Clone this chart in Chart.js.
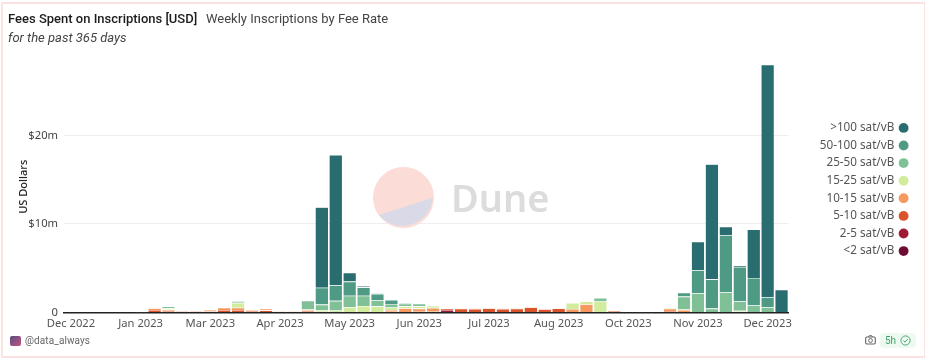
<!DOCTYPE html>
<html>
<head>
<meta charset="utf-8">
<script src="https://cdn.jsdelivr.net/npm/chart.js@4"></script>
<style>
html,body{margin:0;padding:0;background:#fff}
#wrap{position:relative;width:925px;height:358px;overflow:hidden;background:#fff;font-family:Roboto,sans-serif}
#frame{position:absolute;left:1px;top:2px;width:921px;height:352px;border:2px solid #fbe3e1;pointer-events:none}
canvas{position:absolute;left:0;top:0}
.txt{position:absolute;white-space:nowrap;line-height:14px}
#title{left:8px;top:12px;font-size:13px;font-weight:500;color:#1c1c1c}
#sub{left:206px;top:12px;font-size:13px;color:#444}
#period{left:8px;top:31px;font-size:13px;font-style:italic;color:#444}
#mark{position:absolute;left:370px;top:164px}
#dune{left:451px;top:174px;font-family:"Noto Sans",sans-serif;font-size:38px;line-height:46px;font-weight:600;color:#dcdcdc}
#avatar{position:absolute;left:10px;top:336px;width:11px;height:10px;border-radius:2px;background:linear-gradient(135deg,#5a4a80,#c0587f)}
#handle{left:25px;top:334px;font-size:10px;letter-spacing:.1px;color:#666}
#pill{position:absolute;left:880px;top:333px;width:36px;height:15px;border-radius:4px;background:#eefaf1}
#age{left:885px;top:334px;font-size:10px;color:#3f9e68}
#cam{position:absolute;left:865px;top:335px}
#check{position:absolute;left:900px;top:335px}
</style>
</head>
<body>
<div id="wrap">
<canvas id="chart" width="925" height="358"></canvas>
<svg id="mark" width="68" height="68" viewBox="0 0 68 68">
<circle cx="33.5" cy="33.5" r="30.5" fill="#fbdcd6"/>
<path d="M9 51 L62.7 33.7 A30.5 30.5 0 0 1 9 51 Z" fill="#d9d9e7"/>
</svg>
<div class="txt" id="dune">Dune</div>
<div class="txt" id="title">Fees Spent on Inscriptions [USD]</div>
<div class="txt" id="sub">Weekly Inscriptions by Fee Rate</div>
<div class="txt" id="period">for the past 365 days</div>
<div id="avatar"></div>
<div class="txt" id="handle">@data_always</div>
<div id="pill"></div>
<svg id="cam" width="11" height="10" viewBox="0 0 11 10"><rect x=".7" y="2" width="9.6" height="7" rx="1.2" fill="none" stroke="#666" stroke-width="1.1"/><circle cx="5.5" cy="5.5" r="1.9" fill="none" stroke="#666" stroke-width="1"/><path d="M3.5 2 L4.2 .7 H6.8 L7.5 2" fill="none" stroke="#666"/></svg>
<div class="txt" id="age">5h</div>
<svg id="check" width="11" height="11" viewBox="0 0 11 11"><circle cx="5.5" cy="5.5" r="4.6" fill="none" stroke="#4aa873" stroke-width="1"/><path d="M3.4 5.6 L5 7.1 L7.7 4.1" fill="none" stroke="#4aa873" stroke-width="1"/></svg>
<div id="frame"></div>
</div>
<script>
// weeks, first day of each
const weeks = ["2022-12-26","2023-01-02","2023-01-09","2023-01-16","2023-01-23","2023-01-30","2023-02-06","2023-02-13","2023-02-20","2023-02-27",
"2023-03-06","2023-03-13","2023-03-20","2023-03-27","2023-04-03","2023-04-10","2023-04-17","2023-04-24","2023-05-01","2023-05-08",
"2023-05-15","2023-05-22","2023-05-29","2023-06-05","2023-06-12","2023-06-19","2023-06-26","2023-07-03","2023-07-10","2023-07-17",
"2023-07-24","2023-07-31","2023-08-07","2023-08-14","2023-08-21","2023-08-28","2023-09-04","2023-09-11","2023-09-18","2023-09-25",
"2023-10-02","2023-10-09","2023-10-16","2023-10-23","2023-10-30","2023-11-06","2023-11-13","2023-11-20","2023-11-27","2023-12-04",
"2023-12-11","2023-12-18"]
const monthNames = ["Jan","Feb","Mar","Apr","May","Jun","Jul","Aug","Sep","Oct","Nov","Dec"]

// fees in millions of USD, one row per 10 weeks
const under2 = [0,0,0,0,0,0,0,0,0,0,
0,0,0,0,0,0,0,0,0,0,
0,0,0,0,0,0,0,0,0,0,
0,0,0,0,0,0,0,0,0,0,
0,0,0,0,0,0,0,0,0,0,
0,0]
const sat2to5 = [0,0,0,0,0,0,0,0,0,0,
0,0,0,0,0,0,0,0,0,0,
0,0,0,0,0,0,0,.3,0,0,
0,0,0,0,0,0,0,0,0,0,
0,0,0,0,0,0,0,0,0,0,
0,0]
const sat5to10 = [0,0,0,0,0,.02,.3,.2,.12,.12,
.15,.3,.3,.2,.25,.1,.1,.2,0,0,
0,0,0,.1,0,.1,.08,.12,.45,.42,
.47,.42,.43,.58,.38,.48,.05,0,0,.17,
.08,.04,.03,.18,0,0,0,0,0,0,
0,0]
const sat10to15 = [0,0,0,0,0,0,.2,.15,.08,.05,
.15,.25,.25,.1,.2,.02,.03,.12,.1,.03,
0,0,.05,.2,.5,.35,.45,0,.05,.08,
.08,.08,.07,.07,.07,.07,.35,.95,0,.03,
0,0,0,.25,.3,0,0,0,0,0,
0,0]
const sat15to25 = [0,0,0,0,0,0,0,.15,0,0,
0,0,.55,0,0,0,0,.03,.2,.2,
.6,.75,.65,.27,.2,.25,.25,0,0,0,
0,0,0,0,0,0,.7,.3,1.25,0,
0,0,0,.12,.05,0,0,0,.2,0,
0,0]
const sat25to50 = [0,0,0,0,0,0,0,.2,0,0,
0,0,.2,0,0,0,0,1,.6,1.1,
1.3,1.15,.7,.4,.3,.3,0,0,0,0,
0,0,0,0,0,0,0,0,.4,0,
0,0,0,0,1.45,2.2,.45,2.3,1.1,.8,
.6,0]
const sat50to100 = [0,0,0,0,0,0,0,0,0,0,
0,0,0,0,0,0,0,0,1.9,1.77,
1.6,.95,.7,.45,.07,0,0,0,0,0,
0,0,0,0,0,0,0,0,0,0,
0,0,0,0,.45,2.6,3.3,6.4,3.85,3.1,
1.1,0]
const over100 = [0,0,0,0,0,0,0,0,0,0,
0,0,0,0,0,0,0,0,9.1,14.7,
1,.15,.05,0,0,0,0,0,0,0,
0,0,0,0,0,0,0,0,0,0,
0,0,0,0,0,3.2,13,1,.15,5.5,
26.3,2.6]

const seriesNames = ["<2 sat/vB","2-5 sat/vB","5-10 sat/vB","10-15 sat/vB","15-25 sat/vB","25-50 sat/vB","50-100 sat/vB",">100 sat/vB"]
const seriesValues = [under2,sat2to5,sat5to10,sat10to15,sat15to25,sat25to50,sat50to100,over100]
const seriesColors = ["#6e0b33","#a01a35","#d9542b","#f5995f","#d2ec9e","#80c097","#4f9a85","#2a6d70"]

const yTickValues = [0,10,20]
const yTickLabels = ["0","$10m","$20m"]

const tickFont = {family:"'Noto Sans',sans-serif",size:11.2}

// legend column is wider than its text and sits a bit higher than the plot centre
const legendPlace = {
  id: "legendPlace",
  beforeInit(chart) {
    const fit = chart.legend.fit
    chart.legend.fit = function() {
      fit.call(this)
      this.width = 124.5
    }
  },
  afterLayout(chart) {
    chart.legend.top -= 9
    chart.legend.bottom -= 9
    chart.legend.adjustHitBoxes()
  }
}

new Chart(document.getElementById("chart"), {
  type: "bar",
  plugins: [legendPlace],
  data: {
    labels: weeks,
    datasets: seriesNames.map((name,i) => ({
      label: name,
      data: seriesValues[i],
      backgroundColor: seriesColors[i],
      borderColor: "rgba(255,255,255,.4)",
      borderWidth: {top:.6},
      borderSkipped: false,
      barPercentage: .9,
      categoryPercentage: 1
    }))
  },
  options: {
    responsive: false,
    animation: false,
    layout: {padding:{top:61,left:17,right:12,bottom:22}},
    plugins: {
      tooltip: {enabled:false},
      legend: {
        position: "right",
        reverse: true,
        rtl: true,
        textDirection: "ltr",
        labels: {
          usePointStyle: true,
          pointStyle: "circle",
          boxWidth: 7,
          boxHeight: 7,
          padding: 5.9,
          color: "#555",
          font: {family:"'Noto Sans',sans-serif",size:11.7}
        }
      }
    },
    scales: {
      x: {
        stacked: true,
        grid: {display:false,drawTicks:false},
        border: {color:"#222",width:1.5},
        ticks: {
          autoSkip: false,
          maxRotation: 0,
          padding: 5,
          color: "#555",
          font: tickFont,
          callback: function(v,i) {
            if (i % 5 != 0) return ""
            const p = weeks[i].split("-")
            return monthNames[+p[1]-1] + " " + p[0]
          }
        }
      },
      y: {
        stacked: true,
        min: 0,
        max: 28.4,
        afterFit: axis => { axis.width = 47 },
        afterBuildTicks: axis => { axis.ticks = yTickValues.map(value => ({value})) },
        grid: {color:"#eeeeee",drawTicks:false},
        border: {display:false},
        ticks: {
          padding: 6,
          color: "#444",
          font: tickFont,
          callback: v => yTickLabels[yTickValues.indexOf(v)]
        },
        title: {display:true,text:"US Dollars",color:"#222",padding:{top:0,bottom:0},font:{family:"'Noto Sans',sans-serif",size:11,weight:"500"}}
      }
    }
  }
})
</script>
</body>
</html>
